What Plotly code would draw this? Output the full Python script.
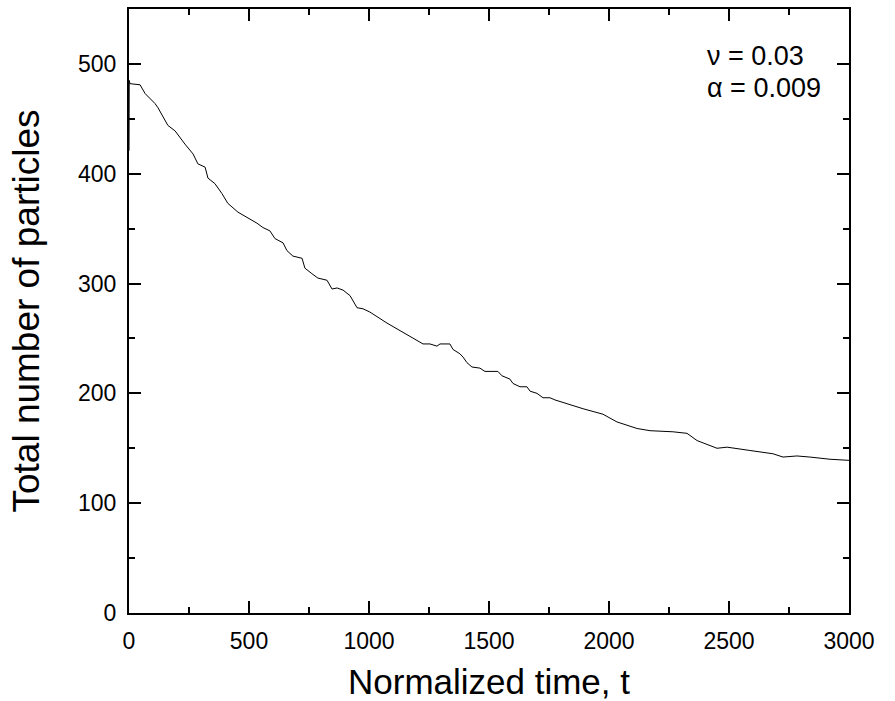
import plotly.graph_objects as go

t = [0, 1, 4, 46, 67, 108, 121, 162, 192, 233, 267, 287, 317, 329, 358, 387, 412, 454,
     496, 517, 533, 558, 587, 608, 642, 658, 683, 721, 733, 762, 787, 825, 846, 867,
     892, 921, 950, 975, 1004, 1075, 1129, 1225, 1254, 1283, 1296, 1337, 1350, 1379,
     1392, 1408, 1429, 1462, 1483, 1537, 1554, 1587, 1600, 1629, 1658, 1671, 1700,
     1725, 1754, 1775, 1892, 1975, 2033, 2117, 2171, 2267, 2325, 2367, 2450, 2492,
     2587, 2683, 2725, 2783, 2837, 2921, 3000]
n = [421, 485, 482, 481, 473, 464, 460, 444, 439, 427, 418, 409, 406, 396, 391, 382, 373, 365,
     360, 357, 355, 351, 348, 341, 337, 330, 325, 323, 314, 309, 305, 303, 295, 296,
     294, 289, 278, 277, 274, 264, 257, 245, 245, 243, 245, 245, 240, 236,
     233, 228, 224, 223, 220, 220, 216, 213, 209, 206, 206, 202, 200,
     196, 196, 194, 186, 181, 174, 168, 166, 165, 163.6, 157, 150, 151,
     148, 145, 142, 143, 142, 140, 139]

x_ticks = [0, 500, 1000, 1500, 2000, 2500, 3000]
y_ticks = [0, 100, 200, 300, 400, 500]

fig = go.Figure()
fig.add_trace(go.Scatter(x=t, y=n, mode="lines", line=dict(color="black", width=1),
                         showlegend=False, hoverinfo="skip"))

font = "Liberation Sans, Arial, sans-serif"
axis_common = dict(
    showline=True, linecolor="black", linewidth=2, mirror="allticks",
    ticks="inside", ticklen=12, tickwidth=2, tickcolor="black",
    showgrid=False, zeroline=False, automargin=False,
    tickfont=dict(family=font, size=23, color="black"),
)
fig.update_xaxes(range=[0, 3000], tickvals=x_ticks, ticktext=[str(v) for v in x_ticks],
                 minor=dict(ticks="inside", ticklen=6, tickwidth=2, dtick=250, tick0=0, tickcolor="black"),
                 ticklabelstandoff=6,
                 title=dict(text="Normalized time, t", font=dict(family=font, size=35, color="black"), standoff=17),
                 **axis_common)
fig.update_yaxes(range=[0, 550], tickvals=y_ticks, ticktext=[str(v) for v in y_ticks],
                 minor=dict(ticks="inside", ticklen=6, tickwidth=2, dtick=50, tick0=0, tickcolor="black"),
                 ticklabelstandoff=6,
                 title=dict(text="Total number of particles", font=dict(family=font, size=37, color="black"), standoff=27),
                 **axis_common)

fig.add_annotation(x=0.803, y=0.922, xref="paper", yref="paper", text="ν = 0.03",
                   showarrow=False, xanchor="left", yanchor="middle", xshift=-2,
                   font=dict(family=font, size=27, color="black"))
fig.add_annotation(x=0.803, y=0.869, xref="paper", yref="paper", text="α = 0.009",
                   showarrow=False, xanchor="left", yanchor="middle", xshift=-2,
                   font=dict(family=font, size=27, color="black"))

fig.update_layout(width=895, height=701, margin=dict(l=129, r=46, t=9, b=88),
                  plot_bgcolor="white", paper_bgcolor="white")
fig.write_html("out.html")
